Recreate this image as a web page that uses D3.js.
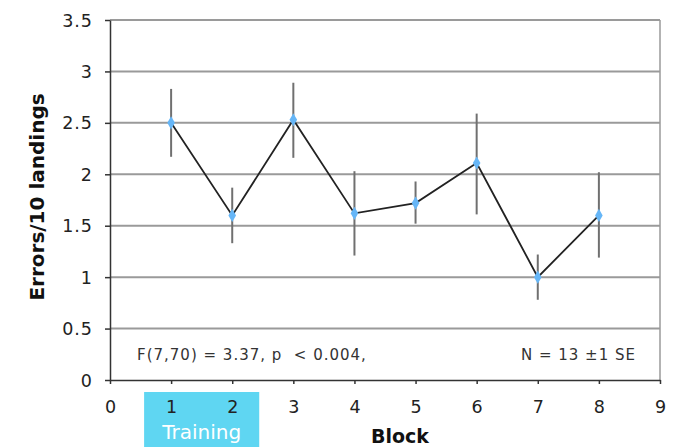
<!DOCTYPE html>
<html><head><meta charset="utf-8">
<script src="https://cdn.jsdelivr.net/npm/d3@7"></script>
<style>body{margin:0;background:#fff}svg{display:block}</style>
</head><body>
<script>
const blocks = [1,2,3,4,5,6,7,8];
const means  = [2.50,1.60,2.53,1.62,1.72,2.11,1.00,1.60];
const errTop = [2.83,1.87,2.89,2.03,1.93,2.59,1.22,2.02];
const errBot = [2.17,1.33,2.16,1.21,1.52,1.61,0.78,1.19];
const yTicks = [0,0.5,1,1.5,2,2.5,3,3.5];
const xTicks = [0,1,2,3,4,5,6,7,8,9];
const trainingBlocks = [1,2];

const W=686,H=447;
const m={left:110,right:26,top:20,bottom:67};
const svg=d3.select("body").append("svg").attr("width",W).attr("height",H);
const x=d3.scaleLinear().domain([0,9]).range([m.left,W-m.right]);
const y=d3.scaleLinear().domain([0,3.5]).range([H-m.bottom,m.top]);
const font="DejaVu Sans, Verdana, sans-serif";

// training box
svg.append("rect").attr("x",x(trainingBlocks[0])-27).attr("y",392)
  .attr("width",x(trainingBlocks[1])-x(trainingBlocks[0])+54).attr("height",H-392)
  .attr("fill","#5fd6f2");
svg.append("text").attr("x",(x(1)+x(2))/2).attr("y",439).attr("text-anchor","middle")
  .attr("fill","#fff").attr("font-family",font).attr("font-size",20).text("Training");

// gridlines
svg.append("g").selectAll("line").data(yTicks.filter(d=>d>0)).join("line")
  .attr("x1",x(0)).attr("x2",x(9)).attr("y1",d=>y(d)).attr("y2",d=>y(d))
  .attr("stroke","#9a9a9a").attr("stroke-width",2);
// right border
svg.append("line").attr("x1",x(9)).attr("x2",x(9)).attr("y1",y(3.5)).attr("y2",y(0))
  .attr("stroke","#9a9a9a").attr("stroke-width",1.5);

// axes
const yAxis=svg.append("g").attr("transform",`translate(${x(0)},0)`)
  .call(d3.axisLeft(y).tickValues(yTicks).tickSize(5).tickSizeOuter(0).tickPadding(12).tickFormat(d=>d));
const xAxis=svg.append("g").attr("transform",`translate(0,${y(0)})`)
  .call(d3.axisBottom(x).tickValues(xTicks).tickSize(4).tickSizeOuter(0).tickPadding(16).tickFormat(d=>d));
[yAxis,xAxis].forEach(g=>{
  g.select(".domain").attr("stroke","#333").attr("stroke-width",1.5);
  g.selectAll(".tick line").attr("stroke","#333").attr("stroke-width",1.5);
  g.selectAll("text").attr("font-family",font).attr("font-size",17.5).attr("fill","#222");
});
yAxis.selectAll(".tick text").attr("dy","0.35em").attr("letter-spacing",1);
xAxis.selectAll(".tick text").attr("dy","0.75em");

// error bars
svg.append("g").selectAll("line").data(blocks).join("line")
  .attr("x1",(d)=>x(d)).attr("x2",d=>x(d))
  .attr("y1",(d,i)=>y(errTop[i])).attr("y2",(d,i)=>y(errBot[i]))
  .attr("stroke","#707070").attr("stroke-width",2);

// line
svg.append("path").datum(blocks)
  .attr("d",d3.line().x(d=>x(d)).y((d,i)=>y(means[i])))
  .attr("fill","none").attr("stroke","#222").attr("stroke-width",1.8);

// markers
svg.append("g").selectAll("path").data(blocks).join("path")
  .attr("transform",(d,i)=>`translate(${x(d)},${y(means[i])})`)
  .attr("d",d3.symbol(d3.symbolDiamond,50))
  .attr("fill","#66b6f7");

// annotations
svg.append("text").attr("x",137).attr("y",360).attr("font-family",font).attr("font-size",15)
  .attr("letter-spacing",1).attr("fill","#333").style("white-space","pre")
  .text("F(7,70) = 3.37, p  < 0.004,");
svg.append("text").attr("x",636).attr("y",360).attr("text-anchor","end").attr("font-family",font)
  .attr("font-size",15).attr("letter-spacing",1).attr("fill","#333").text("N = 13 ±1 SE");

// axis titles
svg.append("text").attr("transform",`translate(44,197) rotate(-90)`)
  .attr("text-anchor","middle").attr("font-family",font).attr("font-weight","bold")
  .attr("font-size",20).attr("fill","#111").text("Errors/10 landings");
svg.append("text").attr("x",400).attr("y",443).attr("text-anchor","middle").attr("font-family",font)
  .attr("font-weight","bold").attr("font-size",19).attr("fill","#111").text("Block");
</script>
</body></html>
